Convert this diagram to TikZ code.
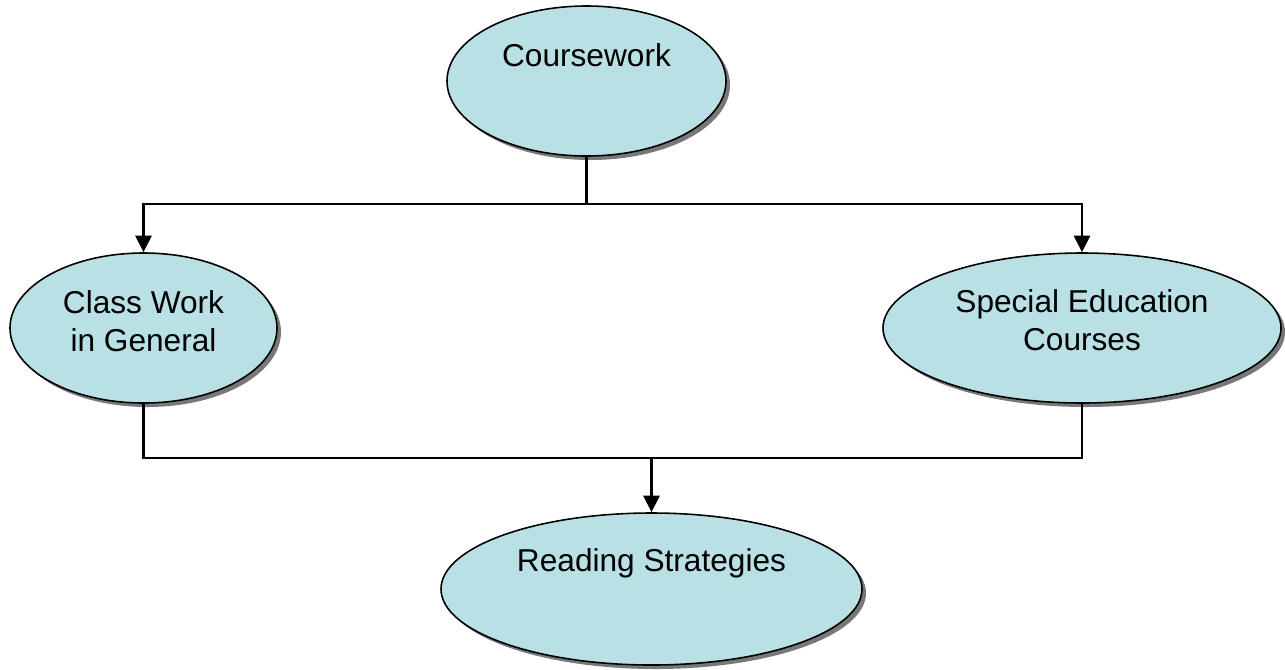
\documentclass[tikz,border=0pt]{standalone}
\usepackage{fontspec}
\setmainfont{Liberation Sans}
\usetikzlibrary{arrows.meta,shapes.geometric,shadows}
\definecolor{bubble}{RGB}{185,224,228}
\definecolor{shade}{RGB}{120,120,120}

\begin{document}
\begin{tikzpicture}[>={Triangle[length=3.3mm,width=3.2mm]},
  every node/.style={font=\fontsize{18}{21.6}\selectfont,align=center},
  link/.style={line width=1.4pt},
  topic/.style={ellipse,draw,line width=0.9pt,fill=bubble,minimum height=3cm,inner sep=0pt,
    drop shadow={shadow xshift=0.08cm,shadow yshift=-0.08cm,fill=shade,opacity=1}}]
  \useasboundingbox (0,0) rectangle (25.7,-13.38);
  \node[topic,minimum width=5.58cm] (cw) at (11.73,-1.62) {};
  \node[topic,minimum width=5.34cm] (cls) at (2.87,-6.56) {};
  \node[topic,minimum width=7.96cm] (sp) at (21.64,-6.56) {};
  \node[topic,minimum width=8.42cm,minimum height=3.04cm] (rd) at (13.03,-11.78) {};
  \node (cwtxt) at ([yshift=0.52cm]cw.center) {Coursework};
  \node (clstxt) at ([yshift=0.14cm]cls.center) {Class Work\\in General};
  \node (sptxt) at ([yshift=0.16cm]sp.center) {Special Education\\Courses};
  \node (rdtxt) at ([yshift=0.52cm]rd.center) {Reading Strategies};
  \coordinate (split) at (11.73,-4.08);
  \coordinate (join) at (13.03,-9.16);
  \draw[link] (cw.south) -- (split);
  \draw[link,->] (split) -| (cls.north);
  \draw[link,->] (split) -| (sp.north);
  \draw[link] (cls.south) |- (join) -| (sp.south);
  \draw[link,->] (join) -- (rd.north);
\end{tikzpicture}
\end{document}
